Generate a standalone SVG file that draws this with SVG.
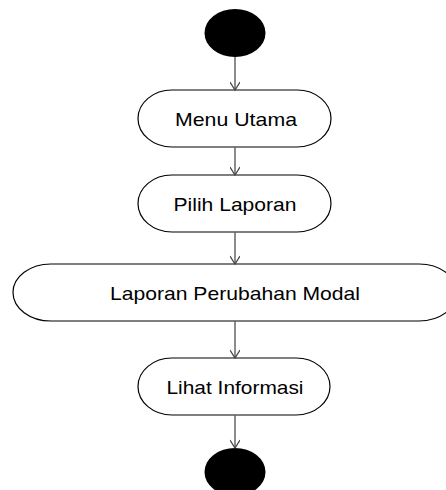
<svg xmlns="http://www.w3.org/2000/svg" width="446" height="490" viewBox="0 0 446 490">
<defs>
<style>
.act{fill:#fff;stroke:#000;stroke-width:1.2}
.lbl{font-family:"Liberation Sans",Arial,sans-serif;font-size:19px;fill:#000;text-anchor:middle}
.con{stroke:#666;stroke-width:1.5;fill:none}
.dot{fill:#000}
</style>
<marker id="arr" markerWidth="18" markerHeight="10" refX="16" refY="5" orient="auto" markerUnits="userSpaceOnUse">
<path d="M8,0 L16,5 L8,10" fill="none" stroke="#444" stroke-width="1.2"/>
</marker>
</defs>
<g id="start"><ellipse class="dot" cx="235" cy="33" rx="30.5" ry="24"/></g>
<g id="menu-utama">
<rect class="act" x="138" y="90" width="193" height="57" rx="34" ry="28.5"/>
<text class="lbl" x="236" y="125.5" textLength="122" lengthAdjust="spacingAndGlyphs">Menu Utama</text>
</g>
<g id="pilih-laporan">
<rect class="act" x="138" y="175" width="193" height="57" rx="34" ry="28.5"/>
<text class="lbl" x="235" y="210.5" textLength="123" lengthAdjust="spacingAndGlyphs">Pilih Laporan</text>
</g>
<g id="laporan-perubahan-modal">
<rect class="act" x="13" y="264" width="444" height="57" rx="38" ry="28.5"/>
<text class="lbl" x="235" y="299.5" textLength="250" lengthAdjust="spacingAndGlyphs">Laporan Perubahan Modal</text>
</g>
<g id="lihat-informasi">
<rect class="act" x="138" y="358" width="192" height="57" rx="34" ry="28.5"/>
<text class="lbl" x="235" y="393.5" textLength="137" lengthAdjust="spacingAndGlyphs">Lihat Informasi</text>
</g>
<g id="end"><ellipse class="dot" cx="235" cy="472" rx="30.5" ry="24"/></g>
<g id="connectors">
<line class="con" x1="235" y1="57" x2="235" y2="90" marker-end="url(#arr)"/>
<line class="con" x1="235" y1="147" x2="235" y2="175" marker-end="url(#arr)"/>
<line class="con" x1="235" y1="232" x2="235" y2="264" marker-end="url(#arr)"/>
<line class="con" x1="235" y1="321" x2="235" y2="358" marker-end="url(#arr)"/>
<line class="con" x1="235" y1="415" x2="235" y2="448" marker-end="url(#arr)"/>
</g>
</svg>
